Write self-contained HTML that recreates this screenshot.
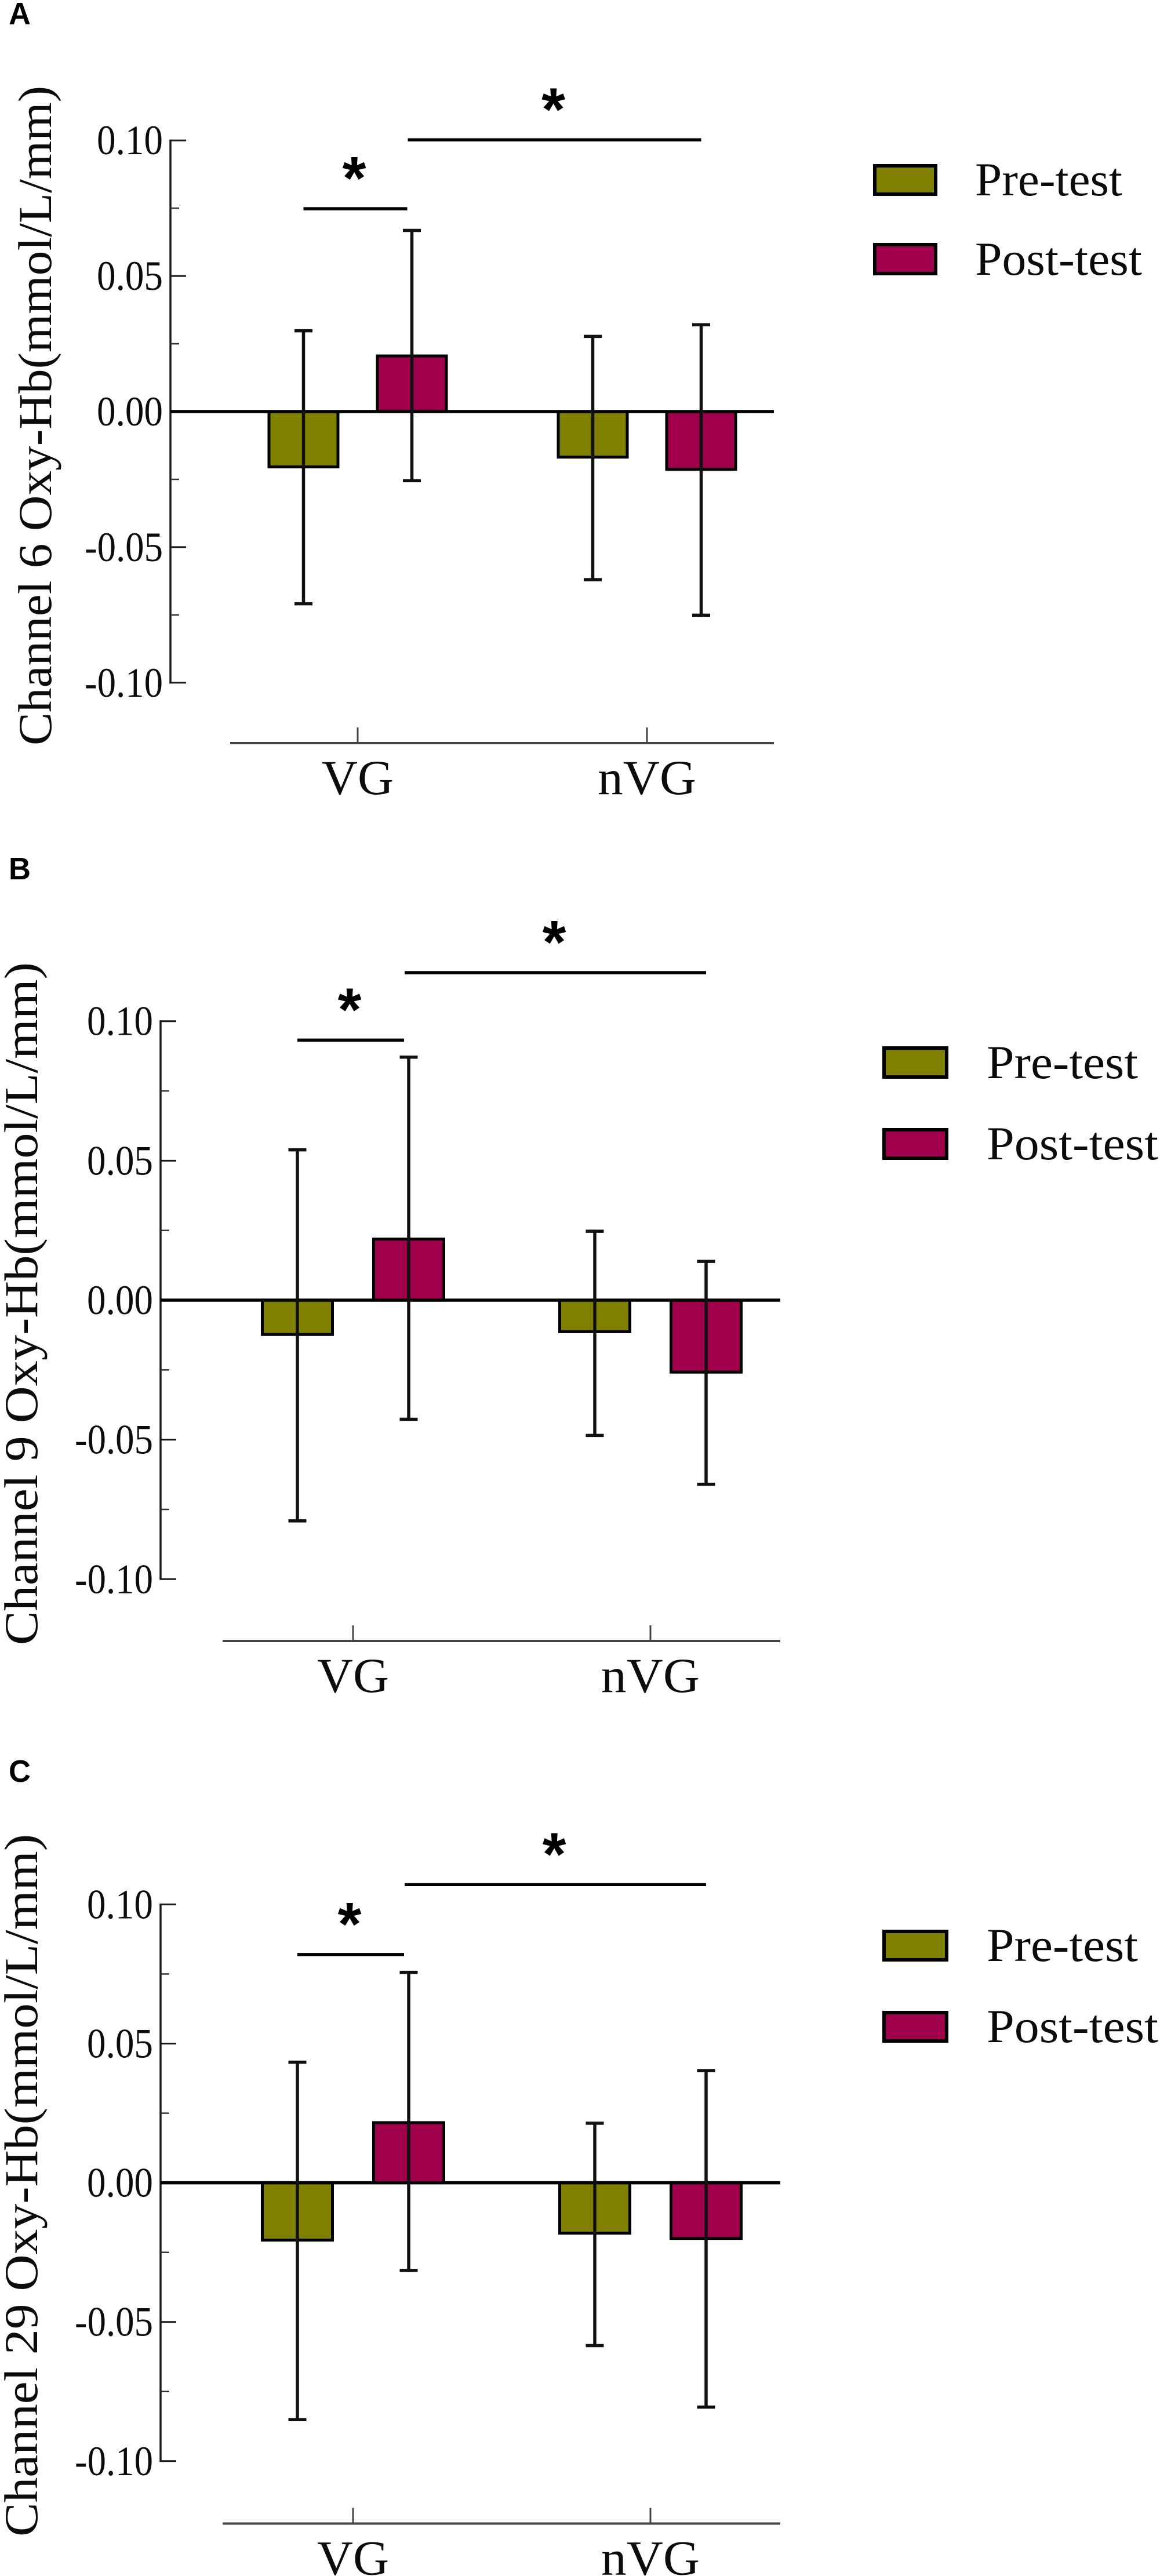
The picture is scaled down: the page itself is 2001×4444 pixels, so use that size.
<!DOCTYPE html>
<html lang="en">
<head>
<meta charset="utf-8">
<title>Channel Oxy-Hb bar charts</title>
<style>
html,body{margin:0;padding:0;background:#fff;}
svg{display:block;}
.serif{font-family:"Liberation Serif",serif;fill:#0c0c0c;}
.letter{font-family:"Liberation Sans",sans-serif;font-weight:700;font-size:54px;fill:#000;}
.legend-text{font-size:82px;}
.y-title{font-size:82px;}
</style>
</head>
<body>
<svg id="figure" xmlns="http://www.w3.org/2000/svg" width="2001" height="4444" viewBox="0 0 2001 4444">
  <rect x="0" y="0" width="2001" height="4444" fill="#fff"/>

  <g id="panel-a">
    <text class="letter" x="15" y="42" textLength="38" lengthAdjust="spacingAndGlyphs">A</text>
    <text class="serif y-title" transform="translate(88,1286) rotate(-90)" textLength="1138" lengthAdjust="spacingAndGlyphs">Channel 6 Oxy-Hb(mmol/L/mm)</text>
    <rect x="1509" y="286" width="105" height="49" fill="#808000" stroke="#000" stroke-width="6"/>
    <text class="serif legend-text" x="1682" y="337" textLength="254" lengthAdjust="spacingAndGlyphs">Pre-test</text>
    <rect x="1509" y="422" width="105" height="50" fill="#A0004B" stroke="#000" stroke-width="6"/>
    <text class="serif legend-text" x="1682" y="474" textLength="288" lengthAdjust="spacingAndGlyphs">Post-test</text>
  </g>

  <g id="panel-b">
    <text class="letter" x="15" y="1517" textLength="38" lengthAdjust="spacingAndGlyphs">B</text>
    <text class="serif y-title" transform="translate(64,2838) rotate(-90)" textLength="1178" lengthAdjust="spacingAndGlyphs">Channel 9 Oxy-Hb(mmol/L/mm)</text>
    <rect x="1525" y="1808" width="108" height="50" fill="#808000" stroke="#000" stroke-width="6"/>
    <text class="serif legend-text" x="1702" y="1860" textLength="261" lengthAdjust="spacingAndGlyphs">Pre-test</text>
    <rect x="1525" y="1949" width="108" height="49" fill="#A0004B" stroke="#000" stroke-width="6"/>
    <text class="serif legend-text" x="1702" y="2000" textLength="296" lengthAdjust="spacingAndGlyphs">Post-test</text>
  </g>

  <g id="panel-c">
    <text class="letter" x="15" y="3074" textLength="38" lengthAdjust="spacingAndGlyphs">C</text>
    <text class="serif y-title" transform="translate(64,4376) rotate(-90)" textLength="1212" lengthAdjust="spacingAndGlyphs">Channel 29 Oxy-Hb(mmol/L/mm)</text>
    <rect x="1525" y="3332" width="108" height="49" fill="#808000" stroke="#000" stroke-width="6"/>
    <text class="serif legend-text" x="1702" y="3383" textLength="261" lengthAdjust="spacingAndGlyphs">Pre-test</text>
    <rect x="1525" y="3472" width="108" height="49" fill="#A0004B" stroke="#000" stroke-width="6"/>
    <text class="serif legend-text" x="1702" y="3523" textLength="296" lengthAdjust="spacingAndGlyphs">Post-test</text>
  </g>
</svg>

<script>
// ---- shared axis data ----
var categories = ['VG', 'nVG'];
var seriesNames = ['pre-test', 'post-test'];
var tickValues = [0.10, 0.05, 0.00, -0.05, -0.10];
var tickLabels = ['0.10', '0.05', '0.00', '-0.05', '-0.10'];
var minorTickValues = [0.075, 0.025, -0.025, -0.075];

// ---- panel A values (index: VG, nVG) ----
var preMeansA = [-0.0204, -0.0168];
var postMeansA = [0.0205, -0.0213];
var preUpperA = [0.0298, 0.0277];
var preLowerA = [-0.0709, -0.0620];
var postUpperA = [0.0668, 0.0320];
var postLowerA = [-0.0255, -0.0751];
var sigLevelsA = [0.0748, 0.1002];

// ---- panel B values ----
var preMeansB = [-0.0123, -0.0113];
var postMeansB = [0.0219, -0.0258];
var preUpperB = [0.0539, 0.0247];
var preLowerB = [-0.0791, -0.0485];
var postUpperB = [0.0871, 0.0139];
var postLowerB = [-0.0427, -0.0660];
var sigLevelsB = [0.0932, 0.1174];

// ---- panel C values ----
var preMeansC = [-0.0206, -0.0181];
var postMeansC = [0.0216, -0.0200];
var preUpperC = [0.0433, 0.0214];
var preLowerC = [-0.0851, -0.0585];
var postUpperC = [0.0756, 0.0403];
var postLowerC = [-0.0315, -0.0806];
var sigLevelsC = [0.0820, 0.1071];

var SVGNS = 'http://www.w3.org/2000/svg';

function make(parent, tag, attrs, text) {
  var node = document.createElementNS(SVGNS, tag);
  for (var key in attrs) {
    node.setAttribute(key, attrs[key]);
  }
  if (text !== undefined) {
    node.textContent = text;
  }
  parent.appendChild(node);
  return node;
}

function drawPanel(groupId, layout, pre, post, preUp, preLo, postUp, postLo, sig) {
  var group = document.getElementById(groupId);
  var el;

  // axis functions
  function yScale(v) {
    return layout.yZero - v * layout.yUnit;
  }
  function catCenter(c) {
    return layout.catFirst + c * (layout.catSecond - layout.catFirst);
  }
  function barCenter(c, s) {
    return catCenter(c) + (s === 0 ? -layout.barOffset : layout.barOffset);
  }

  // y axis
  var top = yScale(tickValues[0]);
  var bottom = yScale(tickValues[tickValues.length - 1]);
  el = make(group, 'line', {x1: layout.axisX, x2: layout.axisX, y1: top - 1.5, y2: bottom + 1.5, stroke: '#1a1a1a', 'stroke-width': 3.5});
  
  

  tickValues.forEach(function (v, i) {
    var tick = make(group, 'line', {x1: layout.axisX, x2: layout.axisX + 27, y1: yScale(v), y2: yScale(v), stroke: '#1a1a1a', 'stroke-width': 3});
    
    

    var negative = tickLabels[i].charAt(0) === '-';
    var label = make(group, 'text', {
      'class': 'serif',
      x: layout.tickLabelRight,
      y: yScale(v) + 24,
      'text-anchor': 'end',
      'font-size': 72,
      textLength: negative ? 135 : 114,
      lengthAdjust: 'spacingAndGlyphs'
    }, tickLabels[i]);
    
    
  });

  minorTickValues.forEach(function (v) {
    var minor = make(group, 'line', {x1: layout.axisX, x2: layout.axisX + 15, y1: yScale(v), y2: yScale(v), stroke: '#333', 'stroke-width': 2.5});
    
    
  });

  // x axis
  el = make(group, 'line', {x1: layout.xAxisLeft, x2: layout.xAxisRight, y1: layout.xAxisY, y2: layout.xAxisY, stroke: '#444', 'stroke-width': 4});
  
  

  categories.forEach(function (name, c) {
    var tick = make(group, 'line', {x1: catCenter(c), x2: catCenter(c), y1: layout.xAxisY - 27, y2: layout.xAxisY, stroke: '#444', 'stroke-width': 3});
    
    

    var label = make(group, 'text', {
      'class': 'serif',
      x: catCenter(c),
      y: layout.xAxisY + 88,
      'text-anchor': 'middle',
      'font-size': 85,
      textLength: c === 0 ? 124 : 170,
      lengthAdjust: 'spacingAndGlyphs'
    }, name);
    
    
  });

  // bars
  var means = [pre, post];
  var uppers = [preUp, postUp];
  var lowers = [preLo, postLo];
  var fills = ['#808000', '#A0004B'];
  var stroke = 5;

  seriesNames.forEach(function (series, s) {
    categories.forEach(function (name, c) {
      var v = means[s][c];
      var y0 = yScale(Math.max(v, 0));
      var y1 = yScale(Math.min(v, 0));
      var bar = make(group, 'rect', {
        x: barCenter(c, s) - layout.barWidth / 2 + stroke / 2,
        y: y0,
        width: layout.barWidth - stroke,
        height: y1 - y0,
        fill: fills[s],
        stroke: '#000',
        'stroke-width': stroke
      });
      
      
    });
  });

  // zero line
  el = make(group, 'line', {x1: layout.axisX, x2: layout.xAxisRight, y1: yScale(0), y2: yScale(0), stroke: '#000', 'stroke-width': 5.5});
  
  

  // error bars
  seriesNames.forEach(function (series, s) {
    categories.forEach(function (name, c) {
      var x = barCenter(c, s);
      var stem = make(group, 'line', {x1: x, x2: x, y1: yScale(uppers[s][c]), y2: yScale(lowers[s][c]), stroke: '#111', 'stroke-width': 5.5});
      
      

      var capTop = make(group, 'line', {x1: x - 15.5, x2: x + 15.5, y1: yScale(uppers[s][c]), y2: yScale(uppers[s][c]), stroke: '#111', 'stroke-width': 5.5});
      
      

      var capBottom = make(group, 'line', {x1: x - 15.5, x2: x + 15.5, y1: yScale(lowers[s][c]), y2: yScale(lowers[s][c]), stroke: '#111', 'stroke-width': 5.5});
      
      
    });
  });

  // significance brackets: [VG pre -> VG post], [VG post -> nVG post]
  var spans = [
    [barCenter(0, 0), barCenter(0, 1) - 8],
    [barCenter(0, 1) - 7, barCenter(1, 1)]
  ];
  sig.forEach(function (level, i) {
    var line = make(group, 'line', {x1: spans[i][0], x2: spans[i][1], y1: yScale(level), y2: yScale(level), stroke: '#000', 'stroke-width': 5.5});
    
    

    var star = make(group, 'text', {
      x: (spans[i][0] + spans[i][1]) / 2 - 2,
      y: yScale(level) - 76 + 59,
      'text-anchor': 'middle',
      'font-family': '"Liberation Sans", sans-serif',
      'font-weight': 700,
      'font-size': 105,
      fill: '#000'
    }, '*');
    
    
  });
}

drawPanel('panel-a',
  {axisX: 294, tickLabelRight: 281, yZero: 710, yUnit: 4678, catFirst: 617, catSecond: 1116, barOffset: 93.5, barWidth: 124, xAxisLeft: 397, xAxisRight: 1335, xAxisY: 1282},
  preMeansA, postMeansA, preUpperA, preLowerA, postUpperA, postLowerA, sigLevelsA);

drawPanel('panel-b',
  {axisX: 277, tickLabelRight: 264, yZero: 2243, yUnit: 4813, catFirst: 609, catSecond: 1122, barOffset: 96, barWidth: 126, xAxisLeft: 384, xAxisRight: 1346, xAxisY: 2831},
  preMeansB, postMeansB, preUpperB, preLowerB, postUpperB, postLowerB, sigLevelsB);

drawPanel('panel-c',
  {axisX: 277, tickLabelRight: 264, yZero: 3765.6, yUnit: 4802, catFirst: 609, catSecond: 1122, barOffset: 96, barWidth: 126, xAxisLeft: 384, xAxisRight: 1346, xAxisY: 4353.5},
  preMeansC, postMeansC, preUpperC, preLowerC, postUpperC, postLowerC, sigLevelsC);
</script>
</body>
</html>
